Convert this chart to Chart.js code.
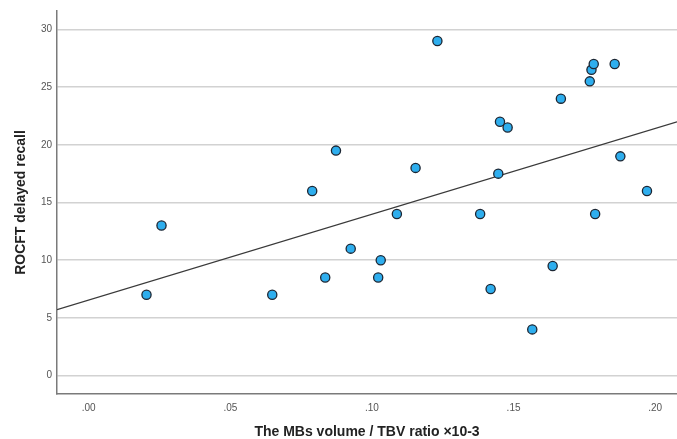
<!DOCTYPE html>
<html>
<head>
<meta charset="utf-8">
<script src="https://cdn.jsdelivr.net/npm/chart.js@4/dist/chart.umd.min.js"></script>
<style>
  html, body { margin: 0; padding: 0; background: #fff; overflow: hidden; }
  #wrap { width: 677px; height: 439px; }
  canvas { display: block; }
</style>
</head>
<body>
<div id="wrap"><canvas id="chart" width="677" height="439"></canvas></div>
<script>
// values
const ratioValues = [0.0204, 0.0257, 0.0648, 0.0789, 0.0835, 0.0873, 0.0925, 0.1022, 0.1031,
  0.1088, 0.1154, 0.1231, 0.1382, 0.1419, 0.1446, 0.1452, 0.1479, 0.1566, 0.1638,
  0.1667, 0.1769, 0.1775, 0.1783, 0.1788, 0.1857, 0.1877, 0.1971];
const recallValues = [7, 13, 7, 16, 8.5, 19.5, 11, 8.5, 10,
  14, 18, 29, 14, 7.5, 17.5, 22, 21.5, 4, 9.5,
  24, 25.5, 26.5, 27, 14, 27, 19, 16];
const xTicks = [0, 0.05, 0.10, 0.15, 0.20];
const yTicks = [0, 5, 10, 15, 20, 25, 30];
const xRange = [-0.0112, 0.2077];
const yRange = [-1.6, 31.6];

// least squares fit line
function fitLine(xs, ys) {
    const n = xs.length;
    const mx = xs.reduce((a, b) => a + b, 0) / n;
    const my = ys.reduce((a, b) => a + b, 0) / n;
    let sxy = 0, sxx = 0;
    for (let i = 0; i < n; i++) {
        sxy += (xs[i] - mx) * (ys[i] - my);
        sxx += (xs[i] - mx) * (xs[i] - mx);
    }
    const slope = sxy / sxx;
    return { slope: slope, intercept: my - slope * mx };
}

const fit = fitLine(ratioValues, recallValues);
const points = ratioValues.map((x, i) => ({ x: x, y: recallValues[i] }));
const linePoints = xRange.map(x => ({ x: x, y: fit.intercept + fit.slope * x }));

Chart.defaults.font.family = "'Liberation Sans', Arial, sans-serif";

new Chart(document.getElementById('chart').getContext('2d'), {
    type: 'scatter',
    data: {
        datasets: [
            {
                type: 'line',
                data: linePoints,
                borderColor: '#3a3a3a',
                borderWidth: 1.3,
                pointRadius: 0,
                fill: false,
                order: 2
            },
            {
                data: points,
                backgroundColor: '#2eaeee',
                borderColor: '#1c2633',
                borderWidth: 1.3,
                pointRadius: 4.6,
                pointHoverRadius: 4.6,
                order: 1
            }
        ]
    },
    options: {
        responsive: false,
        animation: false,
        devicePixelRatio: 1,
        layout: { autoPadding: false, padding: { top: 11, right: 0, left: 0, bottom: 0 } },
        plugins: { legend: { display: false }, tooltip: { enabled: false } },
        scales: {
            x: {
                type: 'linear',
                min: xRange[0],
                max: xRange[1],
                afterBuildTicks: scale => { scale.ticks = xTicks.map(v => ({ value: v })); },
                afterFit: scale => {
                    scale.height = 45;
                    scale.paddingLeft = 0;
                    scale.paddingRight = 0;
                },
                grid: { display: false, drawTicks: false },
                border: { display: true, color: '#7a7a7a', width: 1.5 },
                ticks: {
                    padding: 8,
                    color: '#555',
                    font: { size: 10 },
                    callback: v => v.toFixed(2).replace(/^0/, '')
                },
                title: {
                    display: true,
                    text: 'The MBs volume / TBV ratio ×10-3',
                    color: '#222',
                    font: { size: 14, weight: 'bold' },
                    padding: { top: 0, bottom: -2 }
                }
            },
            y: {
                type: 'linear',
                min: yRange[0],
                max: yRange[1],
                afterBuildTicks: scale => { scale.ticks = yTicks.map(v => ({ value: v })); },
                afterFit: scale => {
                    scale.width = 57;
                    scale.paddingTop = 0;
                    scale.paddingBottom = 0;
                },
                grid: { color: '#d2d2d2', lineWidth: 1.5, drawTicks: false },
                border: { display: true, color: '#7a7a7a', width: 1.5 },
                ticks: {
                    padding: 5,
                    color: '#555',
                    font: { size: 10 }
                },
                title: {
                    display: true,
                    text: 'ROCFT delayed recall',
                    color: '#222',
                    font: { size: 14, weight: 'bold' },
                    padding: { top: 13, bottom: 0 }
                }
            }
        }
    }
});
</script>
</body>
</html>
